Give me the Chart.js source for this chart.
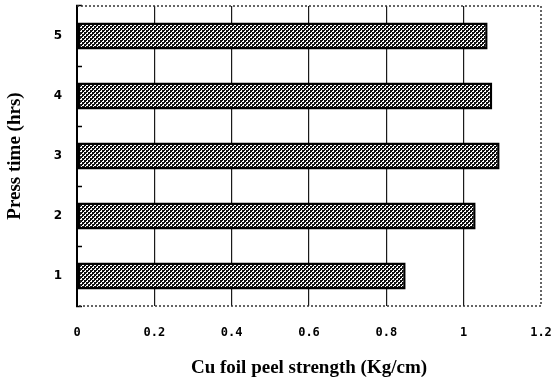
<!DOCTYPE html>
<html>
<head>
<meta charset="utf-8">
<script src="https://cdn.jsdelivr.net/npm/chart.js@4"></script>
<style>
    html, body { margin: 0; padding: 0; background: #ffffff; }
    #peelChart { display: block; }
</style>
</head>
<body>
<canvas id="peelChart" width="554" height="382"></canvas>
<script>
// Data
const pressTimes = ['1', '2', '3', '4', '5'];
const peelStrength = [0.85, 1.031, 1.093, 1.074, 1.062];
const strengthTicks = [0, 0.2, 0.4, 0.6, 0.8, 1, 1.2];

const xTitle = 'Cu foil peel strength (Kg/cm)';
const yTitle = 'Press time (hrs)';

// checkered fill like the printed bars
function makeHatch() {
    const c = document.createElement('canvas');
    c.width = 4;
    c.height = 4;
    const g = c.getContext('2d');
    g.fillStyle = '#ffffff';
    g.fillRect(0, 0, 4, 4);
    g.fillStyle = '#111111';
    g.fillRect(0, 0, 2, 2);
    g.fillRect(2, 2, 2, 2);
    g.fillRect(2, 0, 1, 1);
    g.fillRect(0, 2, 1, 1);
    return document.getElementById('peelChart').getContext('2d').createPattern(c, 'repeat');
}

// dotted frame on top, right and bottom of the plot
const dottedFrame = {
    id: 'dottedFrame',
    afterDraw(chart) {
        const { ctx, chartArea: a } = chart;
        ctx.save();
        ctx.strokeStyle = '#333333';
        ctx.lineWidth = 1.5;
        ctx.setLineDash([2, 2]);
        ctx.beginPath();
        ctx.moveTo(a.left, a.top);
        ctx.lineTo(a.right, a.top);
        ctx.lineTo(a.right, a.bottom);
        ctx.lineTo(a.left, a.bottom);
        ctx.stroke();
        ctx.restore();
    }
};

function noPadding(scale) {
    scale.paddingTop = 0;
    scale.paddingBottom = 0;
    scale.paddingLeft = 0;
    scale.paddingRight = 0;
}

const ctx = document.getElementById('peelChart').getContext('2d');

new Chart(ctx, {
    type: 'bar',
    data: {
        labels: pressTimes,
        datasets: [{
            data: peelStrength,
            backgroundColor: makeHatch(),
            borderColor: '#000000',
            borderWidth: 2.5,
            borderSkipped: false,
            barPercentage: 0.45,
            categoryPercentage: 1
        }]
    },
    options: {
        indexAxis: 'y',
        responsive: false,
        animation: false,
        layout: {
            padding: { top: 6, right: 13, left: 0, bottom: 0 }
        },
        plugins: {
            legend: { display: false },
            tooltip: { enabled: false }
        },
        scales: {
            x: {
                type: 'linear',
                min: 0,
                max: 1.2,
                afterBuildTicks: (scale) => {
                    scale.ticks = strengthTicks.map(v => ({ value: v }));
                },
                afterFit: (scale) => {
                    scale.height = 76;
                    noPadding(scale);
                },
                grid: {
                    color: (c) => (c.tick && (c.tick.value === 0 || c.tick.value === 1.2)) ? 'rgba(0,0,0,0)' : '#1a1a1a',
                    lineWidth: 1.2,
                    drawTicks: false
                },
                border: { display: false },
                ticks: {
                    padding: 20,
                    maxRotation: 0,
                    color: '#000000',
                    font: { family: 'DejaVu Sans Mono', size: 12, weight: 'bold' },
                    callback: (value) => String(value)
                },
                title: {
                    display: true,
                    text: xTitle,
                    color: '#000000',
                    font: { family: 'Liberation Serif', size: 19, weight: 'bold' },
                    padding: { top: 0, bottom: 3 }
                }
            },
            y: {
                type: 'category',
                reverse: true,
                afterFit: (scale) => {
                    scale.width = 77;
                    noPadding(scale);
                },
                grid: {
                    offset: true,
                    drawOnChartArea: false,
                    drawTicks: true,
                    tickLength: -5,
                    tickColor: '#000000',
                    tickWidth: 1.5
                },
                border: { display: true, color: '#000000', width: 2 },
                ticks: {
                    padding: 20,
                    color: '#000000',
                    font: { family: 'DejaVu Sans', size: 12, weight: 'bold' }
                },
                title: {
                    display: true,
                    text: yTitle,
                    color: '#000000',
                    font: { family: 'Liberation Serif', size: 19, weight: 'bold' },
                    padding: { top: 4, bottom: 0 }
                }
            }
        }
    },
    plugins: [dottedFrame]
});
</script>
</body>
</html>
